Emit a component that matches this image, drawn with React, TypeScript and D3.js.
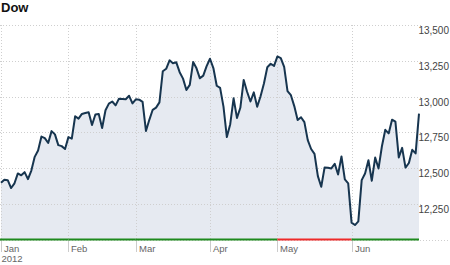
import React from "react";
import * as d3 from "d3";

const monthLabels = ["Jan", "Feb", "Mar", "Apr", "May", "Jun"];
const monthDays = [20, 20, 22, 20, 22, 21];
const monthUp = [true, true, true, true, false, true];
const yTicks = [12000, 12250, 12500, 12750, 13000, 13250, 13500];
const yearLabel = "2012";
const title = "Dow";

const jan = [12397, 12418, 12415, 12360, 12393, 12462, 12449, 12471, 12422, 12482, 12578, 12623, 12720, 12709, 12675, 12758, 12735, 12660, 12653, 12633];
const feb = [12716, 12705, 12862, 12845, 12878, 12884, 12890, 12801, 12874, 12878, 12780, 12904, 12950, 12965, 12938, 12985, 12983, 12981, 13005, 12952];
const mar = [12980, 12978, 12962, 12759, 12837, 12907, 12922, 12959, 13177, 13194, 13253, 13233, 13239, 13170, 13125, 13046, 13081, 13241, 13197, 13127, 13146, 13212];
const apr = [13264, 13199, 13075, 13060, 12929, 12716, 12806, 12987, 12850, 12921, 13116, 13033, 12965, 13029, 12928, 13002, 13091, 13205, 13229, 13214];
const may = [13280, 13269, 13207, 13038, 13009, 12933, 12835, 12855, 12821, 12695, 12633, 12599, 12443, 12369, 12504, 12502, 12497, 12530, 12455, 12581, 12420, 12393];
const jun = [12118, 12101, 12127, 12415, 12461, 12554, 12411, 12573, 12497, 12652, 12767, 12742, 12838, 12824, 12574, 12641, 12503, 12535, 12627, 12602, 12880];

const values = [...jan, ...feb, ...mar, ...apr, ...may, ...jun];

export default function App() {
  const W = 450, H = 265;
  const left = 1, right = 419, top = 25, bottom = 239.5;
  const n = values.length;
  const x = d3.scaleLinear().domain([0, n - 1]).range([left, right]);
  const y = d3.scaleLinear().domain([12000, 13500]).range([bottom, top]);

  const starts: number[] = [];
  let acc = 0;
  monthDays.forEach((d) => { starts.push(acc); acc += d; });

  const line = d3.line<number>().x((_, i) => x(i)).y((v) => y(v));
  const area = d3.area<number>().x((_, i) => x(i)).y0(bottom).y1((v) => y(v));

  const font = "Arial, 'Liberation Sans', sans-serif";

  return (
    <svg width={W} height={H} style={{ position: "absolute", left: 0, top: 0, background: "#fff" }} fontFamily={font}>
      <text x={1} y={12} fontSize={13} fontWeight="bold" fill="#111">{title}</text>
      <path d={area(values) || ""} fill="#e6eaf1" />
      {yTicks.map((t) => (
        <g key={t}>
          <line x1={0} x2={t === 12000 ? 450 : 422} y1={Math.round(y(t)) + 0.5} y2={Math.round(y(t)) + 0.5} stroke="#cfcfcf" strokeDasharray="1,2" />
          {t !== 12000 && (
            <text x={449} y={Math.round(y(t)) + 8.5} fontSize={10} fill="#444" textAnchor="end">{d3.format(",")(t)}</text>
          )}
        </g>
      ))}
      {starts.map((s, i) => {
        const xx = Math.round(x(s)) + 0.5;
        return (
          <g key={i}>
            <line x1={xx} x2={xx} y1={top} y2={bottom} stroke="#cfcfcf" strokeDasharray="1,2" />
            <line x1={xx} x2={xx} y1={bottom} y2={252} stroke="#cccccc" />
            <text x={xx + 2.5} y={252} fontSize={9.5} fill="#666">{monthLabels[i]}</text>
          </g>
        );
      })}
      <text x={1.5} y={262} fontSize={9.5} fill="#666">{yearLabel}</text>
      {starts.map((s, i) => {
        const x0 = x(s);
        const x1 = i < starts.length - 1 ? x(starts[i + 1]) : right;
        return <rect key={"b" + i} x={x0 - (i === 0 ? 1 : 0)} y={bottom - 1} width={x1 - x0 + (i === 0 ? 1 : 0)} height={2} fill={monthUp[i] ? "#1e8a1e" : "#ee2a2a"} />;
      })}
      <path d={line(values) || ""} fill="none" stroke="#17354f" strokeWidth={2} strokeLinejoin="round" />
    </svg>
  );
}
